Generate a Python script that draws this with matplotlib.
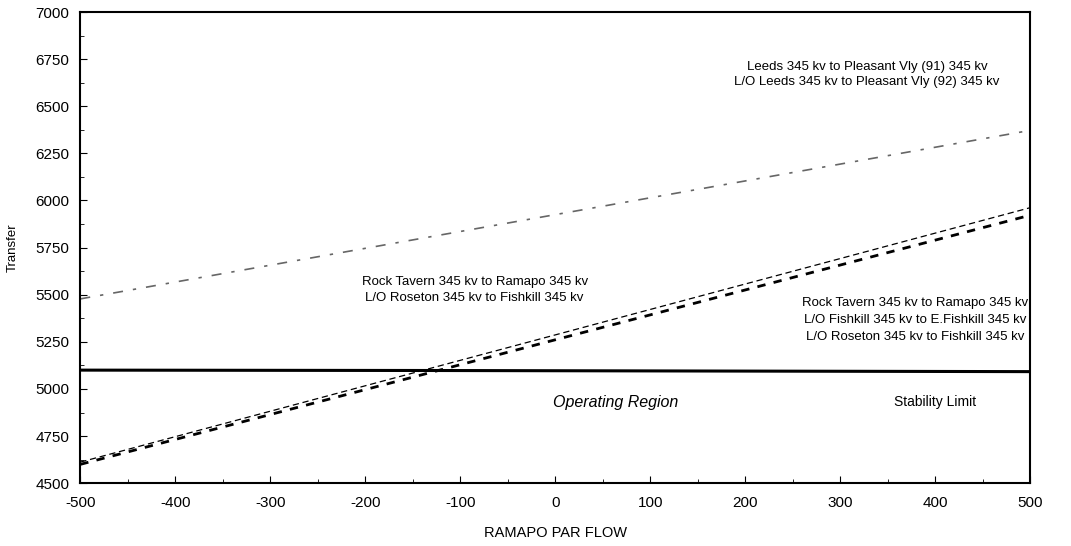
import matplotlib
matplotlib.use('Agg')
import matplotlib.pyplot as plt
from matplotlib.ticker import MultipleLocator

plt.rcParams['font.family'] = ['Liberation Sans', 'DejaVu Sans']
plt.rcParams['axes.unicode_minus'] = False

# data
flow = [-500, 500]
leeds = [5478, 6372]
rock_roseton = [4612, 5962]
rock_fishkill_roseton = [4600, 5922]
stab_flow = [-500, -130, 500]
stab_limit = [5100, 5098, 5092]

fig = plt.figure(figsize=(10.71, 5.46), dpi=100)
ax = fig.add_axes([0.075, 0.115, 0.887, 0.863])

ax.plot(flow, leeds, color='#666666', lw=1.2, linestyle=(0, (6, 6, 2, 6)))
ax.plot(flow, rock_roseton, color='black', lw=0.9, linestyle=(0, (5, 3)))
ax.plot(flow, rock_fishkill_roseton, color='black', lw=2.0, linestyle=(0, (3, 3)))
ax.plot(stab_flow, stab_limit, color='black', lw=2.2)

ax.set_xlim(-500, 500)
ax.set_ylim(4500, 7000)
ax.xaxis.set_major_locator(MultipleLocator(100))
ax.xaxis.set_minor_locator(MultipleLocator(50))
ax.yaxis.set_major_locator(MultipleLocator(250))
ax.yaxis.set_minor_locator(MultipleLocator(125))
ax.tick_params(which='both', direction='in', top=False, right=False,
               labelsize=11)
ax.tick_params(which='major', length=5)
ax.tick_params(which='minor', length=3)
ax.tick_params(axis='x', pad=9)
ax.tick_params(axis='y', pad=8)
for s in ax.spines.values():
    s.set_linewidth(1.5)

ax.set_xlabel("RAMAPO PAR FLOW", fontsize=10.5, labelpad=12)
ax.set_ylabel("Transfer", fontsize=9.5, labelpad=12)

ax.text(328, 6668, "Leeds 345 kv to Pleasant Vly (91) 345 kv\n"
        "L/O Leeds 345 kv to Pleasant Vly (92) 345 kv",
        ha='center', va='center', fontsize=9.5, linespacing=1.4)
ax.text(-85, 5524, "Rock Tavern 345 kv to Ramapo 345 kv\n"
        "L/O Roseton 345 kv to Fishkill 345 kv",
        ha='center', va='center', fontsize=9.5, linespacing=1.4)
ax.text(379, 5365, "Rock Tavern 345 kv to Ramapo 345 kv\n"
        "L/O Fishkill 345 kv to E.Fishkill 345 kv\n"
        "L/O Roseton 345 kv to Fishkill 345 kv",
        ha='center', va='center', fontsize=9.5, linespacing=1.55)
ax.text(63, 4928, "Operating Region", ha='center', va='center',
        fontsize=11.5, style='italic')
ax.text(400, 4930, "Stability Limit", ha='center', va='center', fontsize=10)

fig.savefig("out.png", dpi=100)
plt.close(fig)
